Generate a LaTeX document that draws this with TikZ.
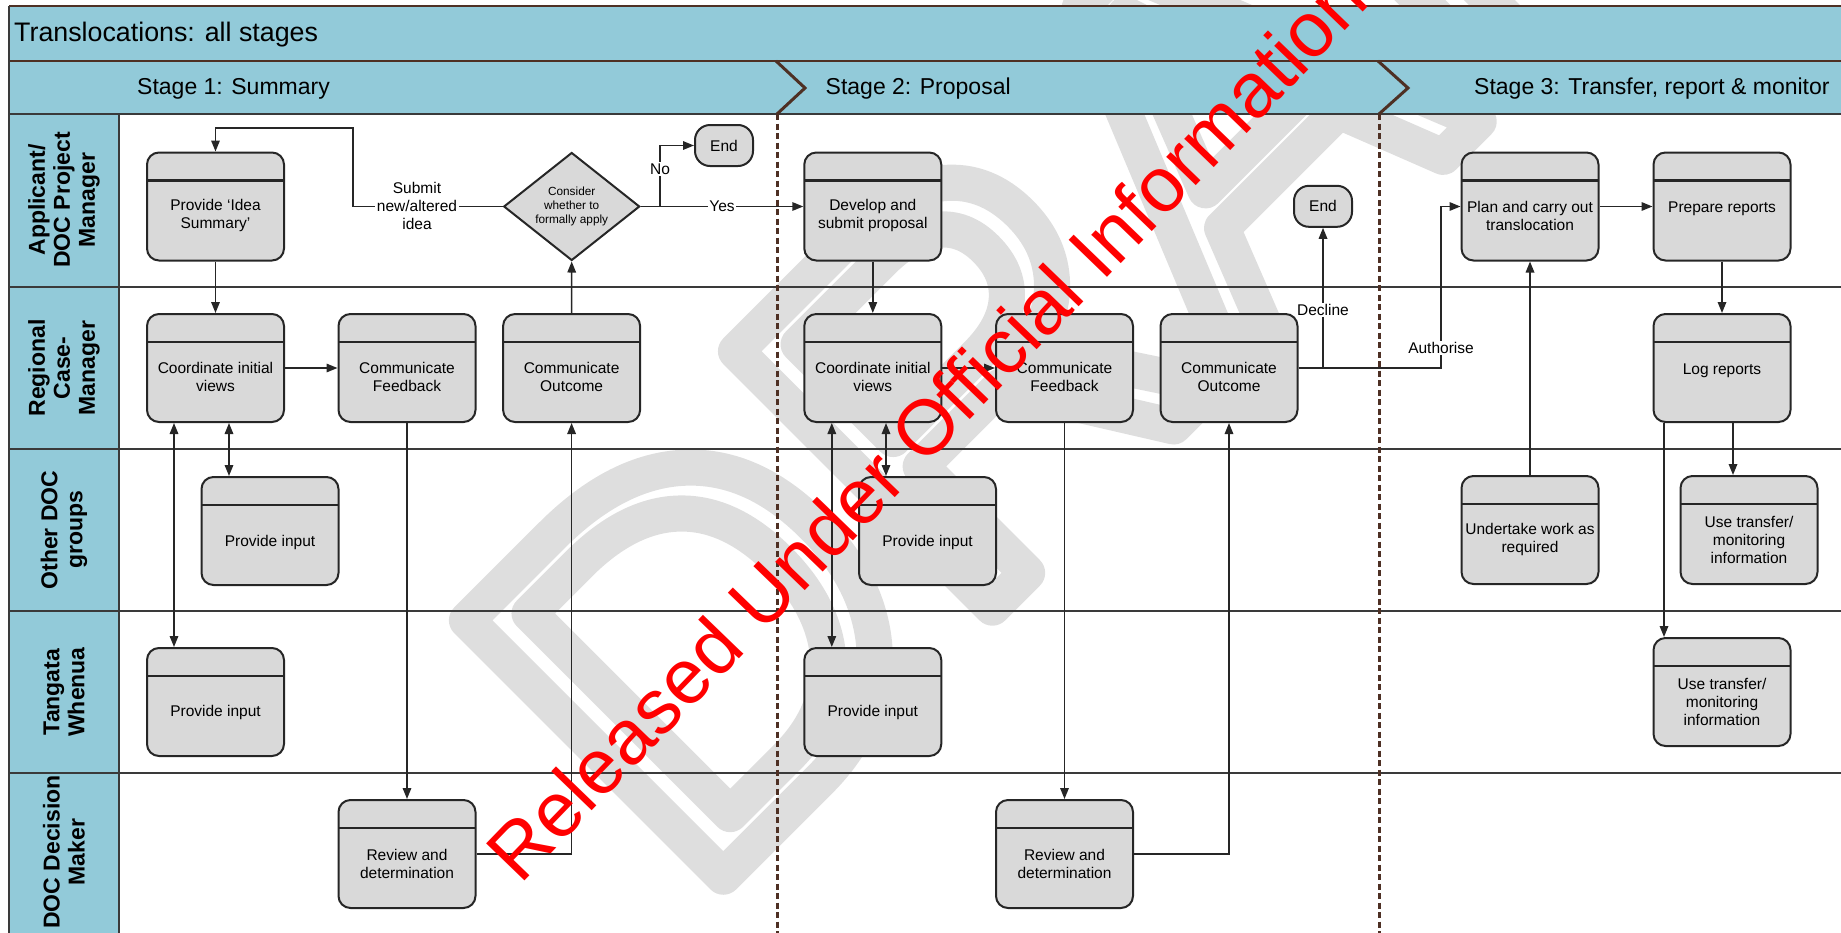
\documentclass[tikz,border=0pt]{standalone}
\usepackage{fontspec}
\setmainfont{Liberation Sans}
\usetikzlibrary{arrows.meta,shapes.geometric}

\definecolor{bandblue}{HTML}{92CAD9}
\definecolor{boxgrey}{HTML}{D9D9D9}
\definecolor{ink}{HTML}{262626}
\definecolor{rule}{HTML}{3A3A3A}
\definecolor{stagebrown}{HTML}{4E3024}
\definecolor{draftgrey}{HTML}{DEDEDE}

% stroked (hollow) lettering for the DRAFT mark
\newcommand\outlinetext[1]{\special{pdf:literal direct 1 Tr 36 w 1 j}#1\special{pdf:literal direct 0 Tr}}

% a process step: rounded box with a header strip, and its caption
\newcommand\procstep[5]{%
  \node[procbox] (#1) at (#2,#3) {};
  \node[proctext] (#1-txt) at (#2,#4) {#5};
}

\tikzset{
  tip/.tip={Triangle[length=11pt,width=8.5pt]},
  conn/.style={draw=ink, line width=1.6pt, -tip},
  twoway/.style={draw=ink, line width=1.6pt, tip-tip},
  procbox/.style={rectangle, rounded corners=12pt, draw=ink, line width=2pt, fill=boxgrey,
    minimum width=137pt, minimum height=108pt, inner sep=0pt,
    path picture={\draw[ink, line width=2.4pt]
      ([yshift=-28pt]path picture bounding box.north west) --
      ([yshift=-28pt]path picture bounding box.north east);}},
  proctext/.style={font=\fontsize{15.5}{18}\selectfont, align=center, inner sep=0pt},
  endcap/.style={rectangle, rounded corners=15pt, draw=ink, line width=2pt, fill=boxgrey,
    minimum width=58pt, minimum height=41pt, inner sep=0pt, font=\fontsize{15.5}{18}\selectfont},
  decision/.style={diamond, draw=ink, line width=2pt, fill=boxgrey,
    minimum width=136pt, minimum height=108pt, inner sep=0pt},
  flowlabel/.style={font=\fontsize{15.5}{18}\selectfont, fill=white, inner sep=1.5pt, align=center},
  lanelabel/.style={rotate=90, font=\fontsize{23}{25}\selectfont\bfseries, align=center, inner sep=0pt},
  stagelabel/.style={anchor=base west, inner sep=0pt, font=\fontsize{23}{26}\selectfont},
  laneline/.style={draw=rule, line width=1.3pt},
  stagesep/.style={draw=stagebrown, line width=3pt, dash pattern=on 6pt off 3.5pt},
  chevron/.style={draw=stagebrown, line width=3pt},
}

\begin{document}
\begin{tikzpicture}[x=1pt, y=-1pt]
\useasboundingbox (0,0) rectangle (1841,932);
\clip (0,0) rectangle (1841,932);

% DRAFT mark behind everything
\node[rotate=45, anchor=base west, inner sep=0pt, text=draftgrey,
      font=\fontsize{527}{527}\selectfont] (draft) at (692.6,907.4) {\outlinetext{DRAFT}};

% title and stage bands
\fill[bandblue] (9,6) rectangle (1841,114);
\fill[bandblue] (9,114) rectangle (119,935);
\draw[stagebrown, line width=2pt] (9,6) -- (1841,6);
\draw[stagebrown, line width=1.3pt] (9,61) -- (1841,61);
\draw[laneline] (9,114) -- (1841,114);
\draw[laneline] (9,6) -- (9,935);
\draw[laneline] (119,114) -- (119,935);
\foreach \y in {287,449,611,773} \draw[laneline] (9,\y) -- (1841,\y);

\node[anchor=base west, inner sep=0pt, font=\fontsize{26.8}{30}\selectfont] (title) at (14,41.7) {Translocations: all stages};
\node[stagelabel] (stage1) at (137,94.5) {Stage 1: Summary};
\node[stagelabel] (stage2) at (825.5,94.5) {Stage 2: Proposal};
\node[stagelabel] (stage3) at (1474,94.5) {Stage 3: Transfer, report \& monitor};

% stage boundaries
\draw[chevron] (776,61) -- (805,88) -- (777,114);
\draw[chevron] (1378,61) -- (1408,88) -- (1379,114);
\draw[stagesep] (777,114) -- (777,935);
\draw[stagesep] (1379,114) -- (1379,935);

% swimlane headings
\node[lanelabel] (lane1-lbl) at (64,200) {Applicant/\\DOC Project\\Manager};
\node[lanelabel] (lane2-lbl) at (64,368) {Regional\\Case-\\Manager};
\node[lanelabel] (lane3-lbl) at (64,530) {Other DOC\\groups};
\node[lanelabel] (lane4-lbl) at (64,692) {Tangata\\Whenua};
\node[lanelabel] (lane5-lbl) at (64,852) {DOC Decision\\Maker};

% stage 1
\procstep{pis}{215.5}{206.5}{215.5}{Provide ‘Idea\\Summary’}
\node[decision] (dia) at (571.7,206.5) {};
\node[proctext, font=\fontsize{11.8}{14}\selectfont] (dia-txt) at (571.7,206.8) {Consider\\whether to\\formally apply};
\node[endcap] (end1) at (724,145.5) {End};
\procstep{cv1}{215.5}{368}{377}{Coordinate initial\\views}
\procstep{cf1}{407}{368}{377}{Communicate\\Feedback}
\procstep{co1}{571.6}{368}{377}{Communicate\\Outcome}
\procstep{pi1}{270}{531}{542}{Provide input}
\procstep{tw1}{215.5}{702}{712}{Provide input}
\procstep{rv1}{407}{854}{863.5}{Review and\\determination}

% stage 2
\procstep{dev}{872.8}{206.5}{215.5}{Develop and\\submit proposal}
\node[endcap] (end2) at (1323,206.3) {End};
\procstep{cv2}{872.8}{368}{377}{Coordinate initial\\views}
\procstep{cf2}{1064.5}{368}{377}{Communicate\\Feedback}
\procstep{co2}{1229}{368}{377}{Communicate\\Outcome}
\procstep{pi2}{927.5}{531}{542}{Provide input}
\procstep{tw2}{872.8}{702}{712}{Provide input}
\procstep{rv2}{1064.5}{854}{863.5}{Review and\\determination}

% stage 3
\procstep{plan}{1530}{206.5}{215.5}{Plan and carry out\\translocation}
\procstep{prep}{1722}{206.5}{208.5}{Prepare reports}
\procstep{log}{1722}{368}{370.5}{Log reports}
\procstep{und}{1530}{530}{539.5}{Undertake work as\\required}
\procstep{use3}{1749}{530}{539.5}{Use transfer/\\monitoring\\information}
\procstep{use4}{1722}{692}{701.5}{Use transfer/\\monitoring\\information}

% connectors, stage 1
\coordinate (loop) at (353,128);
\draw[conn] (dia.west) -| (loop) -| (pis.north);
\coordinate (fork) at (660,206.5);
\draw[conn] (dia.east) -- (dev.west);
\draw[conn] (fork) |- (end1.west);
\draw[conn] (pis.south) -- (cv1.north);
\draw[conn] (cv1.east) -- (cf1.west);
\draw[twoway] ([xshift=13.5pt]cv1.south) -- ([xshift=-41pt]pi1.north);
\draw[twoway] ([xshift=-41.5pt]cv1.south) -- ([xshift=-41.5pt]tw1.north);
\draw[conn] (cf1.south) -- (rv1.north);
\draw[conn] (rv1.east) -| (co1.south);
\draw[conn] (co1.north) -- (dia.south);

% connectors, stage 2
\draw[conn] (dev.south) -- (cv2.north);
\draw[conn] (cv2.east) -- (cf2.west);
\draw[twoway] ([xshift=13.2pt]cv2.south) -- ([xshift=-41.5pt]pi2.north);
\draw[twoway] ([xshift=-41pt]cv2.south) -- ([xshift=-41pt]tw2.north);
\draw[conn] (cf2.south) -- (rv2.north);
\draw[conn] (rv2.east) -| (co2.south);
\draw[conn] (co2.east) -| (end2.south);
\coordinate (authturn) at (1441,368);
\draw[conn] (co2.east) -- (authturn) |- (plan.west);

% connectors, stage 3
\draw[conn] (und.north) -- (plan.south);
\draw[conn] (plan.east) -- (prep.west);
\draw[conn] (prep.south) -- (log.north);
\draw[conn] ([xshift=11pt]log.south) -- ([xshift=-16pt]use3.north);
\draw[conn] ([xshift=-58pt]log.south) -- ([xshift=-58pt]use4.north);

% connector labels
\node[flowlabel] (submit-lbl) at (417,206) {Submit\\new/altered\\idea};
\node[flowlabel] (no-lbl) at (660,169) {No};
\node[flowlabel] (yes-lbl) at (722,206.5) {Yes};
\node[flowlabel] (decline-lbl) at (1323,310) {Decline};
\node[flowlabel] (auth-lbl) at (1441,348) {Authorise};

% release stamp on top
\node[rotate=46, anchor=base west, inner sep=0pt, text=red,
      font=\fontsize{77.5}{77.5}\selectfont] (stamp) at (520,886) {Released Under Official Information Act};
\end{tikzpicture}
\end{document}
